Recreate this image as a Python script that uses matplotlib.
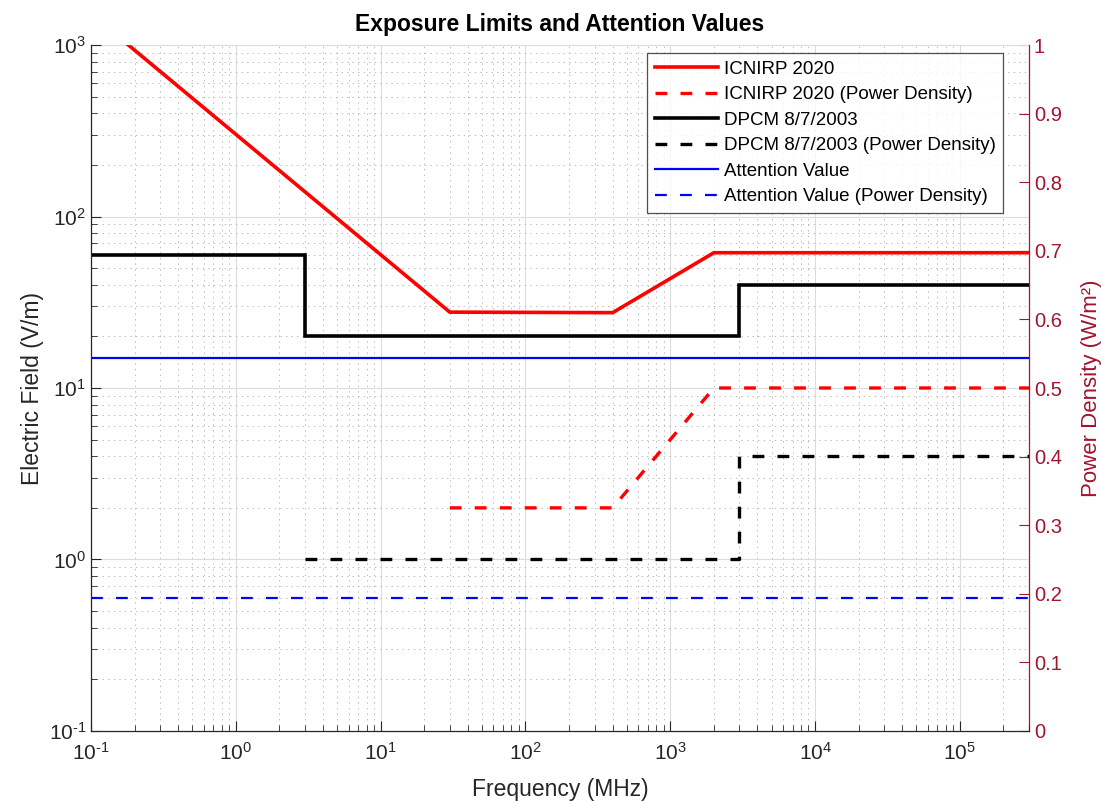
import matplotlib
matplotlib.use("Agg")
import matplotlib.pyplot as plt
import numpy as np
from matplotlib.ticker import LogLocator, NullFormatter, FixedLocator, FuncFormatter

plt.rcParams['font.family'] = ['Liberation Sans', 'DejaVu Sans']
plt.rcParams['mathtext.fontset'] = 'custom'
plt.rcParams['mathtext.rm'] = 'Liberation Sans'
plt.rcParams['mathtext.it'] = 'Liberation Sans:italic'
plt.rcParams['mathtext.bf'] = 'Liberation Sans:bold'
plt.rcParams['mathtext.default'] = 'regular'
plt.rcParams['axes.unicode_minus'] = False
plt.rcParams['lines.scale_dashes'] = False

# ICNIRP 2020 electric field (V/m)
icnirp_f = [0.1, 30, 400, 2000, 300000]
icnirp_e = [1517, 27.7, 27.5, 61.5, 61.5]
# ICNIRP 2020 power density (W/m^2)
icnirp_pd_f = [30, 400, 2000, 300000]
icnirp_pd = [2, 2, 10, 10]
# DPCM 8/7/2003 electric field (V/m)
dpcm_f = [0.1, 3, 3, 3000, 3000, 300000]
dpcm_e = [60, 60, 20, 20, 40, 40]
# DPCM power density
dpcm_pd_f = [3, 3000, 3000, 300000]
dpcm_pd = [1, 1, 4, 4]
# Attention value
att_f = [0.1, 300000]
att_e = [15, 15]
att_pd = [0.6, 0.6]

right_ticks = [0, 0.1, 0.2, 0.3, 0.4, 0.5, 0.6, 0.7, 0.8, 0.9, 1]
right_labels = ['0', '0.1', '0.2', '0.3', '0.4', '0.5', '0.6', '0.7', '0.8', '0.9', '1']

crimson = (0.635, 0.078, 0.184)
dash = (8.5, 9.5)
txt = '#262626'


def pow10(v, pos):
    e = int(round(np.log10(v)))
    s = str(e).replace('-', '\u2010')
    return r'$\mathregular{10^{%s}}$' % s


fig = plt.figure(figsize=(11.01, 8.01), dpi=100)
ax = fig.add_axes([0.0827, 0.0874, 0.9346 - 0.0827, 0.9438 - 0.0874])
ax.set_xscale('log')
ax.set_yscale('log')

ax.plot(icnirp_f, icnirp_e, color='#ff0000', lw=2.6, label='ICNIRP 2020', solid_joinstyle='miter')
ax.plot(icnirp_pd_f, icnirp_pd, color='#ff0000', lw=2.4, dashes=dash, label='ICNIRP 2020 (Power Density)')
ax.plot(dpcm_f, dpcm_e, color='black', lw=2.6, label='DPCM 8/7/2003', solid_joinstyle='miter')
ax.plot(dpcm_pd_f, dpcm_pd, color='black', lw=2.4, dashes=dash, label='DPCM 8/7/2003 (Power Density)')
ax.plot(att_f, att_e, color='#0000ff', lw=1.6, label='Attention Value')
ax.plot(att_f, att_pd, color='#0000ff', lw=1.6, dashes=dash, label='Attention Value (Power Density)')

ax.set_xlim(0.1, 3e5)
ax.set_ylim(0.1, 1000)

ax.xaxis.set_major_locator(LogLocator(base=10, numticks=20))
ax.xaxis.set_major_formatter(FuncFormatter(pow10))
ax.xaxis.set_minor_locator(LogLocator(base=10, subs=np.arange(2, 10), numticks=50))
ax.xaxis.set_minor_formatter(NullFormatter())
ax.yaxis.set_major_locator(LogLocator(base=10, numticks=20))
ax.yaxis.set_major_formatter(FuncFormatter(pow10))
ax.yaxis.set_minor_locator(LogLocator(base=10, subs=np.arange(2, 10), numticks=50))
ax.yaxis.set_minor_formatter(NullFormatter())

ax.grid(True, which='major', color='#dcdcdc', lw=0.8, ls='-')
ax.grid(True, which='minor', color='#bbbbbb', lw=0.7, ls=(0, (1, 3)))
ax.set_axisbelow(True)

ax.tick_params(which='both', direction='in', colors=txt, labelsize=15,
               top=False, right=False)
ax.tick_params(which='major', length=7, width=0.8)
ax.tick_params(which='minor', length=4, width=0.6)
ax.tick_params(axis='x', pad=8)
for s in ['left', 'bottom']:
    ax.spines[s].set_color(txt)
    ax.spines[s].set_linewidth(0.9)
ax.spines['top'].set_visible(False)
ax.spines['right'].set_visible(False)

ax.set_xlabel('Frequency (MHz)', fontsize=16.5, color=txt, labelpad=10)
ax.set_ylabel('Electric Field (V/m)', fontsize=16.5, color=txt, labelpad=3)
ax.set_title('Exposure Limits and Attention Values', fontsize=16.5, fontweight='bold', pad=10)

ax2 = ax.twinx()
ax2.set_ylim(0, 1)
ax2.yaxis.set_major_locator(FixedLocator(right_ticks))
ax2.set_yticklabels(right_labels)
ax2.tick_params(axis='y', direction='in', colors=crimson, labelsize=14.5, length=7, width=0.8)
ax2.spines['right'].set_color(crimson)
ax2.spines['right'].set_linewidth(0.9)
for s in ['top', 'left', 'bottom']:
    ax2.spines[s].set_visible(False)
ax2.set_ylabel('Power Density (W/m²)', fontsize=16, color=crimson, labelpad=14)

leg = ax.legend(loc='upper right', bbox_to_anchor=(0.9723, 0.9883), fontsize=13.5,
                frameon=True, fancybox=False, handlelength=3.36, handletextpad=0.32,
                borderpad=0.4, labelspacing=0.45, borderaxespad=0)
leg.get_frame().set_edgecolor(txt)
leg.get_frame().set_linewidth(0.9)
leg.set_zorder(10)
ax.set_zorder(ax2.get_zorder() + 1)
ax.patch.set_visible(False)

fig.savefig('out.png', dpi=100)
